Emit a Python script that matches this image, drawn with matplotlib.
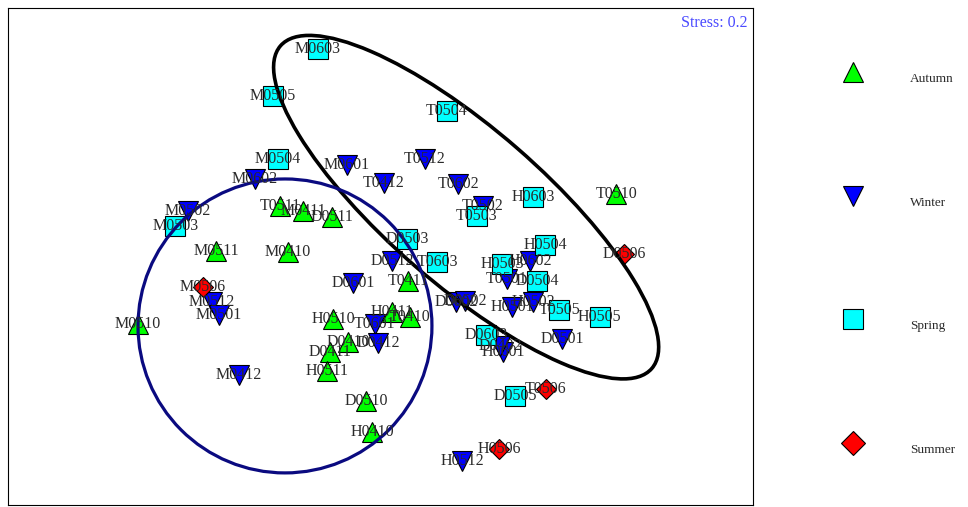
import matplotlib
matplotlib.use("Agg")
import matplotlib.pyplot as plt
from matplotlib.patches import Ellipse

# NMDS scores, one set per season
autumn_lab = ["T0510", "T0511", "M0411", "D0511", "M0410", "M0511", "M0510", "T0411",
              "H0510", "H0411", "T0410", "D0410", "D0411", "H0511", "D0510", "H0410"]
autumn_x = [0.787, -0.333, -0.257, -0.160, -0.307, -0.547, -0.807, 0.093,
            -0.157, 0.040, 0.100, -0.107, -0.167, -0.177, -0.047, -0.027]
autumn_y = [0.217, 0.177, 0.160, 0.140, 0.023, 0.027, -0.217, -0.073,
            -0.200, -0.177, -0.193, -0.277, -0.310, -0.373, -0.473, -0.577]

winter_lab = ["M0601", "T0512", "T0412", "T0602", "T0502", "M0602", "M0502", "D0601",
              "D0512", "M0512", "M0501", "M0412", "T0601", "D0412", "D0602", "D0502",
              "H0602", "T0501", "H0501", "H0502", "D0501", "H0601", "D0402", "H0512"]
winter_x = [-0.110, 0.150, 0.013, 0.260, 0.343, -0.417, -0.640, -0.090,
            0.040, -0.560, -0.537, -0.470, -0.017, -0.007, 0.253, 0.283,
            0.500, 0.423, 0.440, 0.510, 0.607, 0.410, 0.400, 0.273]
winter_y = [0.313, 0.333, 0.253, 0.250, 0.177, 0.267, 0.160, -0.080,
            -0.007, -0.143, -0.187, -0.387, -0.217, -0.280, -0.143, -0.140,
            -0.007, -0.067, -0.160, -0.143, -0.267, -0.310, -0.290, -0.673]

spring_lab = ["M0603", "M0505", "T0504", "M0504", "M0503", "H0603", "T0503", "D0503",
              "T0603", "H0504", "H0503", "D0504", "T0505", "H0505", "D0603", "D0505"]
spring_x = [-0.207, -0.357, 0.223, -0.340, -0.683, 0.510, 0.323, 0.090,
            0.190, 0.550, 0.407, 0.523, 0.597, 0.733, 0.353, 0.450]
spring_y = [0.700, 0.543, 0.493, 0.333, 0.110, 0.207, 0.143, 0.067,
            -0.010, 0.047, -0.017, -0.073, -0.170, -0.193, -0.253, -0.457]

summer_lab = ["D0506", "M0506", "T0506", "H0506"]
summer_x = [0.813, -0.590, 0.553, 0.397]
summer_y = [0.017, -0.093, -0.433, -0.633]

seasons = ["Autumn", "Winter", "Spring", "Summer"]
colors = ["#00ff00", "#0000ff", "#00ffff", "#ff0000"]
markers = ["^", "v", "s", "D"]
sizes = [14, 14, 14, 10.5]

fig = plt.figure(figsize=(9.68, 5.07), dpi=100)
ax = fig.add_axes([8 / 968, 2 / 507, 745 / 968, 497 / 507])

groups = [(autumn_x, autumn_y, autumn_lab), (winter_x, winter_y, winter_lab),
          (spring_x, spring_y, spring_lab), (summer_x, summer_y, summer_lab)]
for (xs, ys, labs), c, m, s in zip(groups, colors, markers, sizes):
    ax.plot(xs, ys, ls="none", marker=m, ms=s, mfc=c, mec="black", mew=0.8, zorder=2)
for xs, ys, labs in groups:
    for x, y, t in zip(xs, ys, labs):
        ax.text(x, y, t, ha="center", va="center", fontsize=11.5,
                family="Liberation Serif", color="#2a2a2a", zorder=4)

# group ellipses
ax.add_patch(Ellipse((0.287, 0.173), 1.64, 0.52, angle=-41, fill=False,
                     ec="black", lw=2.6, zorder=3))
ax.add_patch(Ellipse((-0.317, -0.223), 0.98, 0.98, fill=False,
                     ec="#0a0a80", lw=2.3, zorder=3))

ax.text(0.993, 0.985, "Stress: 0.2", transform=ax.transAxes, ha="right", va="top",
        fontsize=11.5, family="Liberation Serif", color="#4a4aff")

ax.set_xlim(-1.24, 1.243)
ax.set_ylim(-0.82, 0.837)
ax.set_aspect("equal")
ax.set_xticks([])
ax.set_yticks([])
for sp in ax.spines.values():
    sp.set_linewidth(0.8)

# legend drawn in its own axes
lg = fig.add_axes([775 / 968, 0, 193 / 968, 1])
lg.set_xlim(0, 1)
lg.set_ylim(3.518, -0.582)
lg.axis("off")
for i, (name, c, m) in enumerate(zip(seasons, colors, markers)):
    lg.plot([0.404], [i], ls="none", marker=m, ms=14.5 if m != "D" else 12,
            mfc=c, mec="black", mew=0.8)
    lg.annotate(name, (0.70, i), xytext=(0, -5), textcoords="offset points",
                ha="left", va="center", fontsize=9.5, family="Liberation Serif",
                color="#2a2a2a")

fig.savefig("out.png", dpi=100)
